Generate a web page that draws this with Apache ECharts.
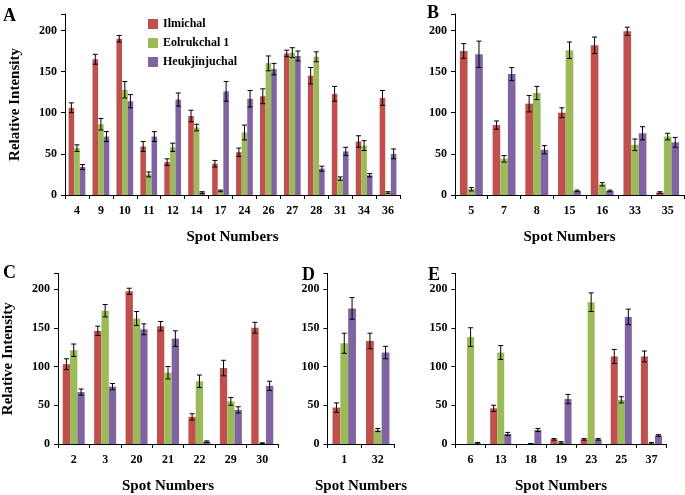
<!DOCTYPE html>
<html><head><meta charset="utf-8">
<script src="https://cdn.jsdelivr.net/npm/echarts@6/dist/echarts.min.js"></script>
<style>html,body{margin:0;padding:0;background:#fff}#c{width:685px;height:495px}</style>
</head><body><div id="c"></div>
<script>
// ---- data ----
var seriesNames = ['Ilmichal', 'Eolrukchal 1', 'Heukjinjuchal'];
var colors = ['#c0504d', '#9bbb59', '#8064a2'];

var catsA = ['4','9','10','11','12','14','17','24','26','27','28','31','34','36'];
var redA   = [106,165,190,59,40,96,38,52,120,172,145,123,65,118];
var greenA = [57,86,128,25,58,82,5,76,160,173,168,20,60,3];
var purpA  = [34,71,114,71,116,3,126,117,153,169,32,53,24,50];
var redAe   = [6,6,4,6,4,7,4,5,9,4,10,9,7,9];
var greenAe = [4,7,10,3,5,4,1,9,9,6,6,2,6,1];
var purpAe  = [3,6,8,6,8,1,12,10,7,6,3,5,2,6];

var catsB = ['5','7','8','15','16','33','35'];
var redB   = [175,85,111,100,182,199,3];
var greenB = [7,44,124,176,13,61,71];
var purpB  = [171,147,55,5,5,75,64];
var redBe   = [9,5,10,6,10,5,1];
var greenBe = [2,4,8,10,2,7,4];
var purpBe  = [16,8,5,1,1,8,6];

var catsC = ['2','3','20','21','22','29','30'];
var redC   = [103,146,197,152,35,98,150];
var greenC = [121,172,162,92,81,55,1];
var purpC  = [67,74,148,136,3,44,75];
var redCe   = [7,6,4,6,4,10,7];
var greenCe = [8,8,9,8,8,5,0.5];
var purpCe  = [4,4,7,10,1,4,6];

var catsD = ['1','32'];
var redD   = [47,133];
var greenD = [130,18];
var purpD  = [175,118];
var redDe   = [6,10];
var greenDe = [13,2];
var purpDe  = [14,8];

var catsE = ['6','13','18','19','23','25','37'];
var redE   = [0,46,0,6,6,113,113];
var greenE = [138,118,0.5,2,183,57,1];
var purpE  = [1,13,18,58,6,164,11];
var redEe   = [0,4,0,1,1,9,7];
var greenEe = [12,9,0,1,12,4,1];
var purpEe  = [1,2,2,6,1,10,1];

var yTicks = [0,50,100,150,200];

// ---- chart ----
var FONT = 'Liberation Serif';
var panels = [
  {cats:catsA, vals:[redA,greenA,purpA], errs:[redAe,greenAe,purpAe], grid:{left:52,top:14,width:348,height:181}, yname:'Relative Intensity'},
  {cats:catsB, vals:[redB,greenB,purpB], errs:[redBe,greenBe,purpBe], grid:{left:455,top:14,width:229,height:181}, yname:''},
  {cats:catsC, vals:[redC,greenC,purpC], errs:[redCe,greenCe,purpCe], grid:{left:52,top:273.5,width:226,height:176}, yname:'Relative Intensity'},
  {cats:catsD, vals:[redD,greenD,purpD], errs:[redDe,greenDe,purpDe], grid:{left:327.5,top:273.5,width:67,height:176}, yname:''},
  {cats:catsE, vals:[redE,greenE,purpE], errs:[redEe,greenEe,purpEe], grid:{left:455.5,top:273.5,width:211,height:176}, yname:''}
];

function errRender(k){
  return function(params, api){
    var xi = api.value(0), lo = api.value(1), hi = api.value(2);
    var pLo = api.coord([xi, lo]), pHi = api.coord([xi, hi]);
    var bandW = api.size([1,0])[0];
    var barW = bandW*0.7/3;
    var x = pLo[0] + (k-1)*barW;
    var cap = 2.5;
    var st = {stroke:'#000', lineWidth:1};
    return {type:'group', children:[
      {type:'line', shape:{x1:x,y1:pLo[1],x2:x,y2:pHi[1]}, style:st},
      {type:'line', shape:{x1:x-cap,y1:pHi[1],x2:x+cap,y2:pHi[1]}, style:st},
      {type:'line', shape:{x1:x-cap,y1:pLo[1],x2:x+cap,y2:pLo[1]}, style:st}
    ]};
  };
}

var grids=[], xAxes=[], yAxes=[], series=[];
panels.forEach(function(p, gi){
  grids.push(p.grid);
  xAxes.push({type:'category', gridIndex:gi, data:p.cats,
    name:'Spot Numbers', nameLocation:'middle', nameGap:35,
    nameTextStyle:{fontFamily:FONT, fontWeight:'bold', fontSize:15, color:'#000'},
    axisLine:{lineStyle:{color:'#000', width:1}},
    axisTick:{show:true, length:4, lineStyle:{color:'#000'}},
    axisLabel:{fontFamily:FONT, fontWeight:'bold', fontSize:12, color:'#000', margin:10},
    splitLine:{show:false}});
  yAxes.push({type:'value', gridIndex:gi, min:0, max:220, interval:50,
    name:p.yname, nameLocation:'middle', nameGap:42, nameRotate:90,
    nameTextStyle:{fontFamily:FONT, fontWeight:'bold', fontSize:15, color:'#000'},
    axisLine:{show:true, lineStyle:{color:'#000', width:1}},
    axisTick:{show:true, length:4, lineStyle:{color:'#000'}},
    axisLabel:{fontFamily:FONT, fontWeight:'bold', fontSize:12, color:'#000', margin:8,
      formatter:function(v){ return yTicks.indexOf(v)>=0 ? String(v) : ''; }},
    splitLine:{show:false}});
  for (var k=0;k<3;k++){
    series.push({type:'bar', name:seriesNames[k], xAxisIndex:gi, yAxisIndex:gi,
      data:p.vals[k], barGap:'0%', barCategoryGap:'30%',
      itemStyle:{color:colors[k]}, emphasis:{disabled:true}});
  }
  for (var k=0;k<3;k++){
    var d=[];
    for (var i=0;i<p.cats.length;i++){
      var v=p.vals[k][i], e=p.errs[k][i];
      if (v===0 && e===0) continue;
      d.push([i, Math.max(0,v-e), v+e]);
    }
    series.push({type:'custom', xAxisIndex:gi, yAxisIndex:gi, renderItem:errRender(k),
      data:d, encode:{x:0, y:[1,2]}, z:5, silent:true});
  }
});

var letters=[['A',3,7],['B',427,4],['C',3,264],['D',302,266],['E',428,266]];
var graphic = letters.map(function(l){
  return {type:'text', left:l[1], top:l[2], style:{text:l[0], font:'bold 18px "Liberation Serif"', fill:'#000'}};
});

var chart = echarts.init(document.getElementById('c'), null, {renderer:'canvas'});
chart.setOption({
  backgroundColor:'#fff',
  animation:false,
  grid:grids, xAxis:xAxes, yAxis:yAxes, series:series,
  graphic:graphic,
  legend:{data:seriesNames, orient:'vertical', left:143, top:13, itemWidth:10, itemHeight:10,
    itemGap:7, icon:'rect', selectedMode:false,
    textStyle:{fontFamily:FONT, fontWeight:'bold', fontSize:12, color:'#000'}}
});
</script></body></html>
